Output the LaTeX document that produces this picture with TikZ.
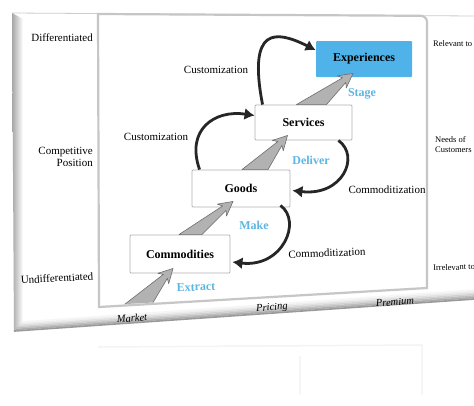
\documentclass[tikz,border=0pt]{standalone}
\usepackage{fontspec}
\setmainfont{Liberation Serif}
\usetikzlibrary{calc,arrows.meta}
\definecolor{expblue}{RGB}{79,179,234}
\definecolor{lblblue}{RGB}{92,182,228}
\definecolor{gwfill}{RGB}{178,178,178}
\definecolor{gwline}{RGB}{110,110,110}
\newcommand\graywedge[3]{%
  \coordinate (gwM) at ($(#1)!0.5!(#2)$);
  \filldraw[gwstyle] (#1) -- ($(#3)!11pt!(gwM)!2.8pt!-90:(gwM)$) -- ($(#3)!14pt!(gwM)!7.5pt!-90:(gwM)$) -- (#3) -- ($(#3)!14pt!(gwM)!7.5pt!90:(gwM)$) -- ($(#3)!11pt!(gwM)!2.8pt!90:(gwM)$) -- (#2) -- cycle;}
\begin{document}
\begin{tikzpicture}[x=1pt,y=-1pt,
  box/.style={draw=gray!60, line width=0.9pt, fill=white, rounded corners=1pt, font=\fontsize{12}{14}\selectfont\bfseries, inner sep=0pt},
  lbl/.style={font=\fontsize{11}{12.5}\selectfont, inner sep=0pt},
  small/.style={font=\fontsize{8.5}{10}\selectfont, inner sep=0pt},
  axis/.style={font=\fontsize{10.5}{12}\selectfont\itshape, inner sep=0pt},
  blue/.style={font=\fontsize{12}{14}\selectfont\bfseries, text=lblblue, inner sep=0pt},
  gwstyle/.style={fill=gwfill, draw=gwline, line width=0.6pt, line join=round},
  curv/.style={line width=2.8pt, black!85, -{Latex[length=10pt,width=12pt]}}]
\useasboundingbox (0,0) rectangle (474,405);
% board
\fill[white] (0,0) rectangle (474,405);
\fill[white] (12,13) -- (474,16) -- (474,299) -- (14,331) -- cycle;
\draw[gray!40, line width=0.8pt] (12,13) -- (474,16);
\shade[left color=gray!70, right color=white] (12,13) -- (23,19) -- (23,323) -- (14,331) -- cycle;
\foreach \k/\c in {0/80,1.5/65,3/50,4.5/36,6/24,7.5/14,9/7}
  \draw[gray!\c, line width=1.7pt] ({14+\k},{331-\k}) -- (474,{299-\k});
% faint reflection
\draw[gray!9, line width=1.5pt] (98,347) -- (422,345) -- (422,395);
\draw[gray!7, line width=1.2pt] (300,356) -- (300,395);
% inner plot frame
\coordinate (i1) at (98,14);
\coordinate (i2) at (427,16);
\coordinate (i3) at (427,288);
\coordinate (i4) at (99,307);
\draw[gray!45, line width=2.2pt] (i1) -- (421,15.8) [rounded corners=6pt] -- (i2) [sharp corners] -- (i3) -- (i4) -- cycle;
% nodes
\node[box, draw=none, fill=expblue, minimum width=96pt, minimum height=36pt] (exp) at (364,59) {Experiences};
\node[box, minimum width=97pt, minimum height=35pt] (svc) at (303.5,122.5) {Services};
\node[box, minimum width=98pt, minimum height=37pt] (goods) at (241,188.5) {Goods};
\node[box, minimum width=100pt, minimum height=38pt] (com) at (180,254) {Commodities};
% gray wedge arrows
\coordinate (b1l) at (116,311);
\coordinate (b1r) at (148,311);
\begin{scope}
  \clip (99,15) -- (426,15) -- (426,287) -- (100,305.5) -- cycle;
  \graywedge{b1l}{b1r}{$(com.south)+(-7,-5)$}
\end{scope}
\graywedge{$(com.north)+(-1,0)$}{$(com.north)+(22,0)$}{$(goods.south)+(-8,-6)$}
\graywedge{$(goods.north)+(1,0)$}{$(goods.north)+(27,0)$}{$(svc.south)+(-16,-5)$}
\graywedge{$(svc.north)+(-7,0)$}{$(svc.north)+(23,0)$}{$(exp.south)+(-11,-4)$}
% black curved arrows
\draw[curv] ($(svc.north west)+(8,0)$) .. controls +(-15,-78) and +(-40,-20) .. ($(exp.west)+(0,-9)$);
\draw[curv] ($(goods.north west)+(8,0)$) .. controls +(-14,-40) and +(-40,-6) .. ($(svc.west)+(0,-7)$);
\draw[curv] ($(svc.south east)+(-14,0)$) .. controls +(22,16) and +(50,6) .. ($(goods.east)+(2,2)$);
\draw[curv] ($(goods.south east)+(-10,-2)$) .. controls +(22,16) and +(50,6) .. ($(com.east)+(2,8)$);
% labels
\node[lbl, anchor=east] (ldiff) at (93,38) {Differentiated};
\node[lbl, anchor=east, align=right] (lcomp) at (93,157) {Competitive\\Position};
\node[lbl, rotate=3] (lundiff) at (57,278) {Undifferentiated};
\node[axis, rotate=4] (lmarket) at (132,318) {Market};
\node[axis, rotate=4] (lpricing) at (272,308) {Pricing};
\node[axis, rotate=4] (lpremium) at (395,302) {Premium};
\node[small, anchor=west] (lrel) at (433,44) {Relevant to};
\node[small, anchor=west, align=left] (lneeds) at (435,145) {Needs of\\Customers};
\node[small, anchor=west, rotate=2] (lirr) at (433,268) {Irrelevant to};
\node[lbl] (cus1) at (216,70) {Customization};
\node[lbl] (cus2) at (156,137) {Customization};
\node[lbl] (com1) at (387,190) {Commoditization};
\node[lbl, rotate=2] (com2) at (327,253) {Commoditization};
\node[blue] (lstage) at (362,94) {Stage};
\node[blue] (ldeliver) at (311,160) {Deliver};
\node[blue] (lmake) at (254,225) {Make};
\node[blue, rotate=2] (lextract) at (196,287) {Extract};
\end{tikzpicture}
\end{document}
